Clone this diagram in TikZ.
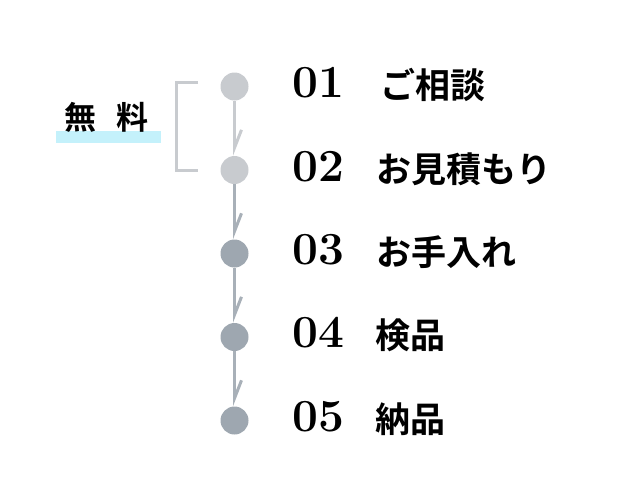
\documentclass[tikz,border=0pt]{standalone}
\usepackage{fontspec}
\newfontfamily\cjk{Noto Sans CJK JP}[BoldFont={* Bold}]
\usetikzlibrary{arrows.meta}
\definecolor{lightg}{HTML}{C8CBCF}
\definecolor{darkg}{HTML}{9EA7B0}
\definecolor{lineg}{HTML}{A8B0B8}
\definecolor{hilite}{HTML}{C4F1FB}
\tikzset{
  dot/.style={circle, fill=#1, minimum size=28pt, inner sep=0pt},
  conn/.style={draw=#1, line width=3pt, -{Straight Barb[left, length=18pt, width=14pt, line width=3pt]}},
  num/.style={anchor=base west, inner sep=0pt, font=\fontsize{46}{50}\selectfont\bfseries},
  lbl/.style={anchor=base west, inner sep=0pt, font=\fontsize{35}{38}\selectfont\cjk\bfseries},
}
\begin{document}
\begin{tikzpicture}[x=1pt,y=-1pt]
\useasboundingbox (0,0) rectangle (631,491);
% highlight and free label
\fill[hilite] (56,131) rectangle (161,143);
\node[anchor=base, inner sep=0pt, font=\fontsize{32}{36}\selectfont\cjk\bfseries] (free) at (106,129) {無\hspace{20pt}料};
% bracket
\draw[lightg, line width=3pt] (198,82.5) -- (176.5,82.5) -- (176.5,170.5) -- (198,170.5);
% steps
\node[dot=lightg] (c1) at (234.5,86.5) {};
\node[dot=lightg] (c2) at (234.5,170) {};
\node[dot=darkg] (c3) at (234.5,253.5) {};
\node[dot=darkg] (c4) at (234.5,337) {};
\node[dot=darkg] (c5) at (234.5,420.5) {};
\draw[conn=lightg] (c1.south) -- (c2.north);
\draw[conn=lineg] (c2.south) -- (c3.north);
\draw[conn=lineg] (c3.south) -- (c4.north);
\draw[conn=lineg] (c4.south) -- (c5.north);
% numbers
\node[num] (n1) at (292,97) {01};
\node[num] (n2) at (292,181) {02};
\node[num] (n3) at (292,264) {03};
\node[num] (n4) at (292,347.5) {04};
\node[num] (n5) at (292,431) {05};
% labels
\node[lbl] (t1) at (380,98) {ご相談};
\node[lbl] (t2) at (376,182) {お見積もり};
\node[lbl] (t3) at (376,265) {お手入れ};
\node[lbl] (t4) at (375,348.5) {検品};
\node[lbl] (t5) at (375,432) {納品};
\end{tikzpicture}
\end{document}
